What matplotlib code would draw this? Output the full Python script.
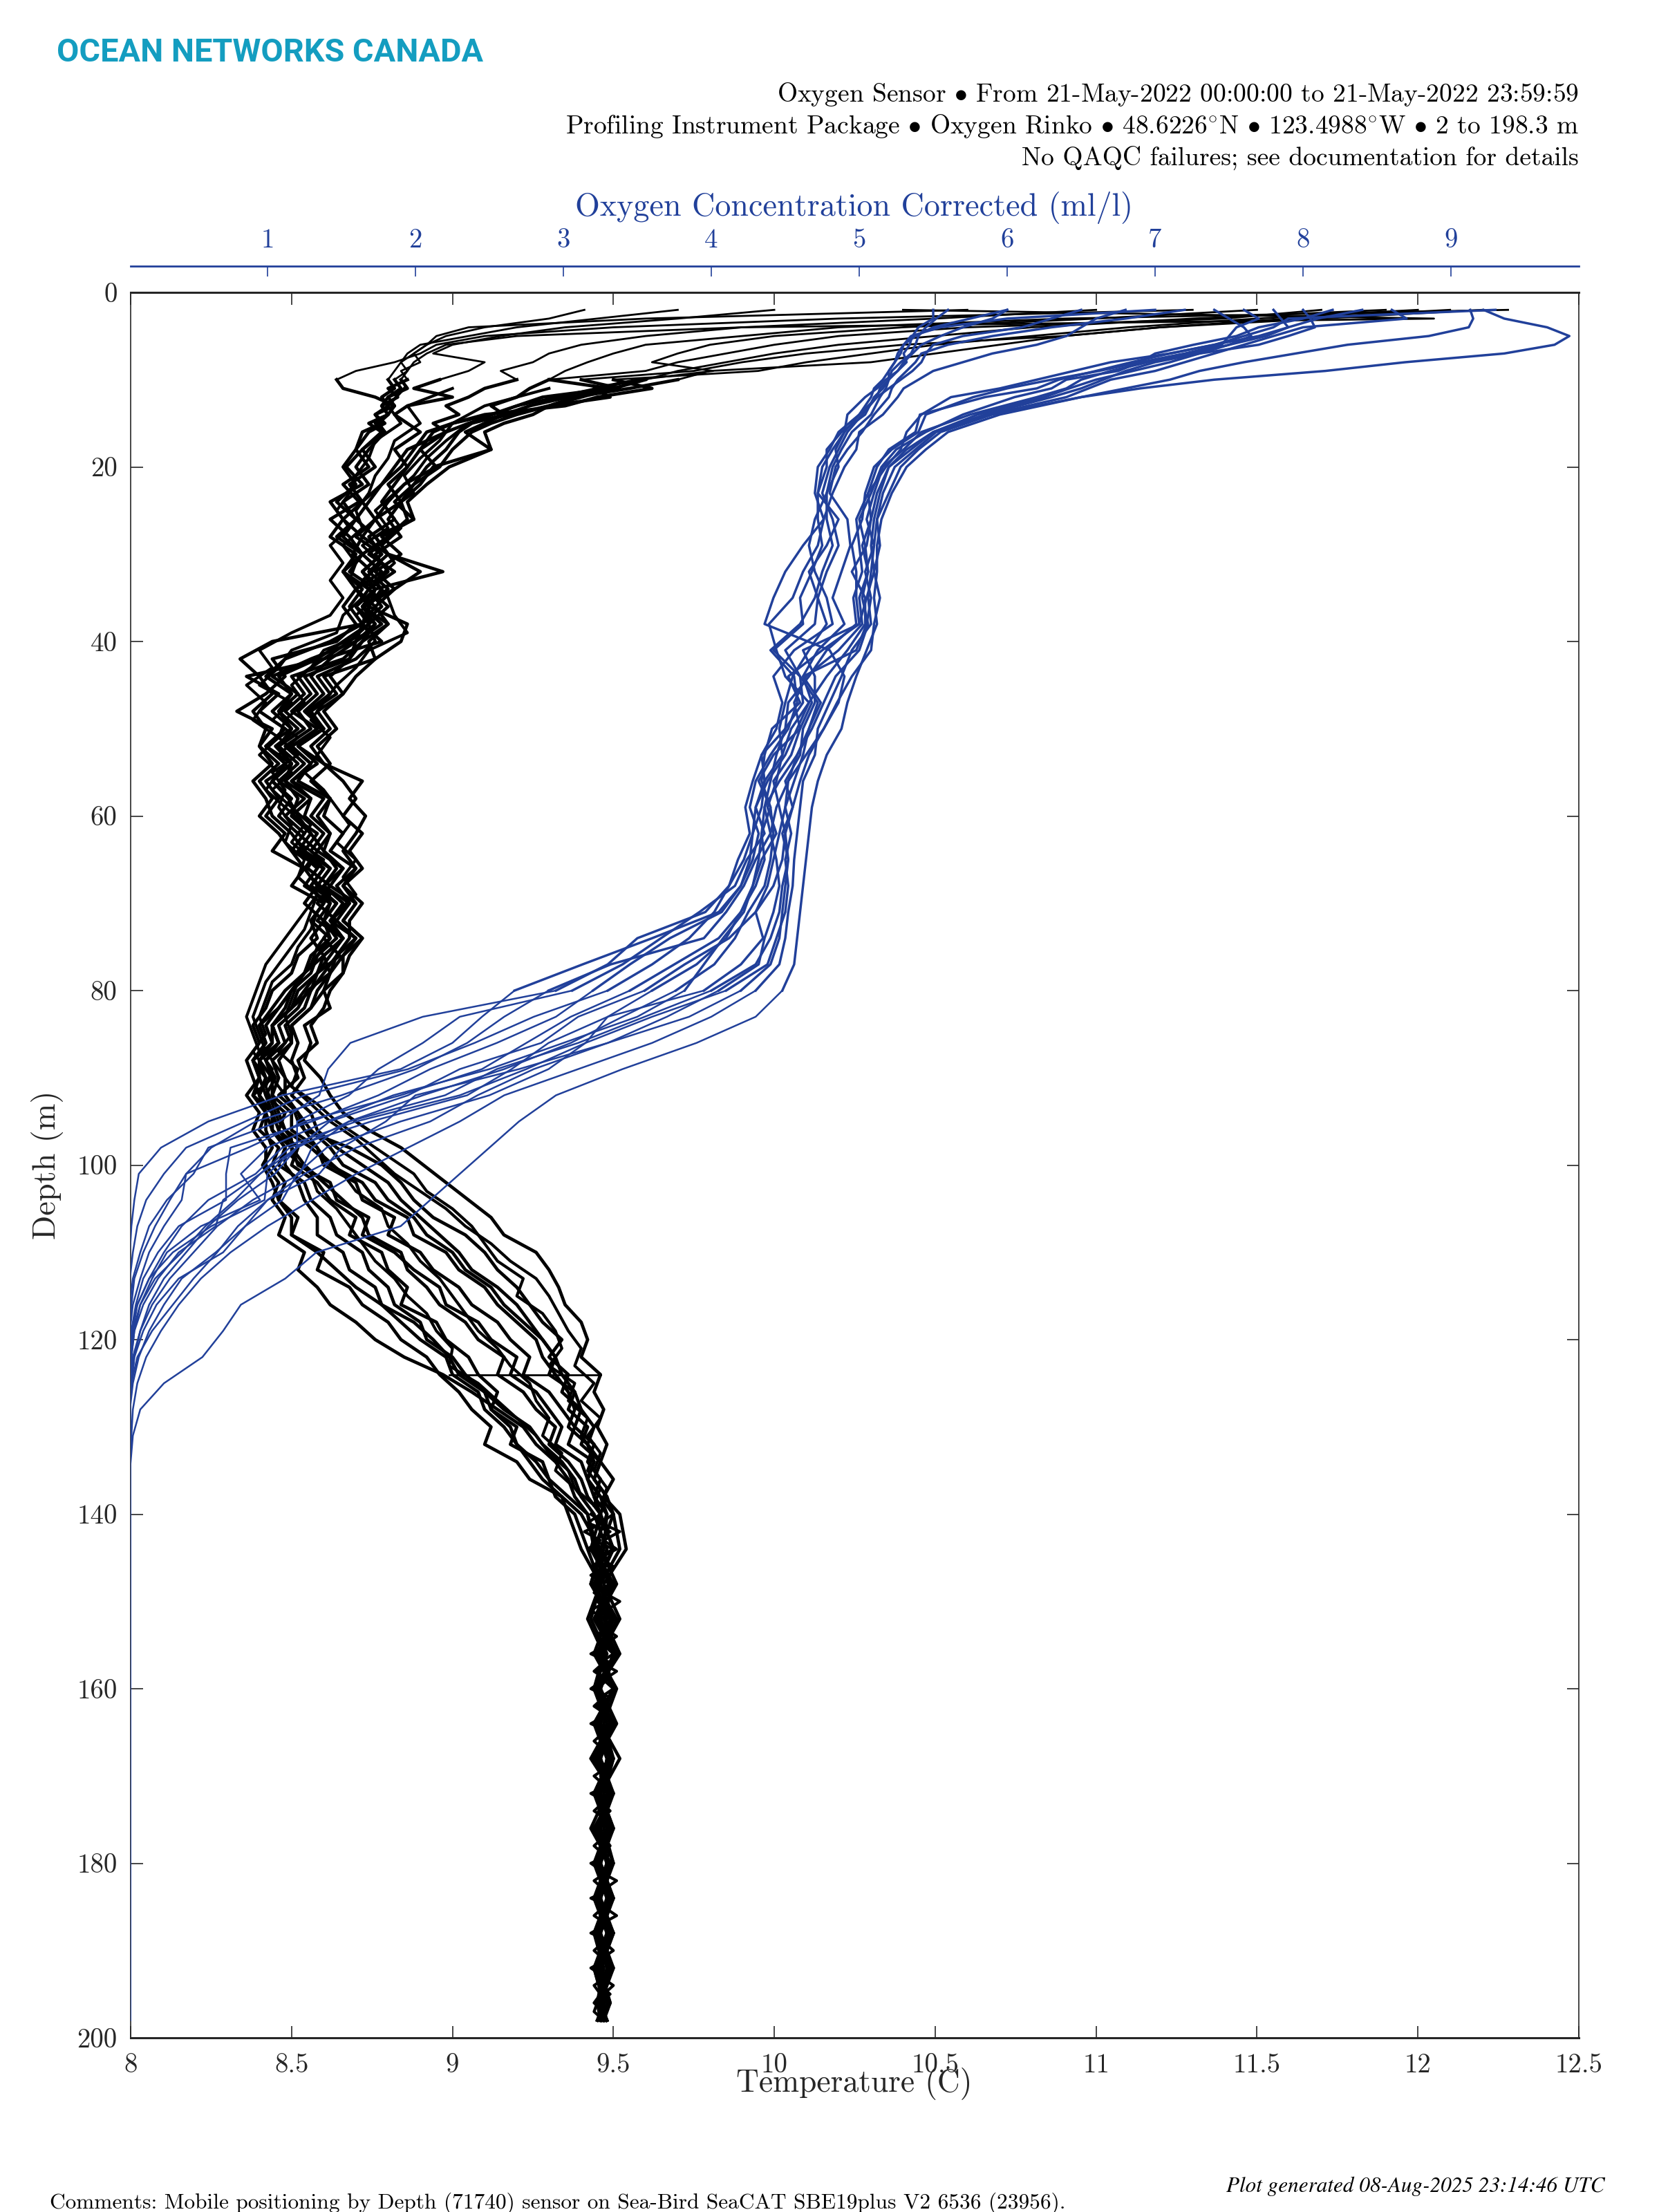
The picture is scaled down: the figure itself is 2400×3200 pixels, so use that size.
import matplotlib
matplotlib.use('Agg')
import matplotlib.pyplot as plt

W = 2400
H = 3200
DPI = 200
BLUE = '#21409a'
TEAL = '#149dc0'
SERIF = ['cmr10', 'DejaVu Serif']

plt.rcParams['axes.formatter.use_mathtext'] = True
plt.rcParams['mathtext.fontset'] = 'cm'
plt.rcParams['mathtext.default'] = 'rm'

depth_temp = [2, 3, 4, 5, 6, 7, 8, 9, 10, 11, 12, 13, 14, 15, 16,
              18, 20, 22, 24, 26, 28, 30, 32, 34, 36, 38, 40, 42, 44, 46, 48, 50, 52, 54, 56, 58, 60,
              62, 64, 66, 68, 70, 72, 74, 76, 78, 80, 82, 84, 86, 88, 90, 92, 94, 96, 98, 100,
              102, 104, 106, 108, 110, 112, 114, 116, 118, 120, 122, 124, 126, 128, 130, 132, 134, 136, 138, 140,
              144, 148, 152, 156, 160, 164, 168, 172, 176, 180, 184, 188, 192, 196, 198]

temp_profiles = [
    [10.6, 9.6, 9.05, 8.95, 8.92, 8.88, 8.9, 8.84, 8.86, 8.8, 8.83, 8.78, 8.8, 8.76, 8.79,
     8.72, 8.76, 8.68, 8.72, 8.66, 8.72, 8.69, 8.75, 8.7, 8.76, 8.72, 8.62, 8.48, 8.42, 8.5, 8.46, 8.52, 8.45, 8.5, 8.44, 8.49, 8.52,
     8.56, 8.6, 8.64, 8.6, 8.66, 8.62, 8.66, 8.6, 8.62, 8.55, 8.52, 8.46, 8.48, 8.42, 8.45, 8.42, 8.48, 8.46, 8.52, 8.5,
     8.58, 8.62, 8.7, 8.68, 8.78, 8.8, 8.86, 8.84, 8.95, 8.98, 9.05, 9.08, 9.14, 9.12, 9.2, 9.18, 9.28, 9.3, 9.36, 9.42,
     9.44, 9.5, 9.46, 9.51, 9.44, 9.49, 9.45, 9.5, 9.44, 9.48, 9.45, 9.5, 9.44, 9.47, 9.46],
    [11.3, 10.2, 9.5, 9.1, 8.95, 8.9, 8.82, 8.7, 8.64, 8.66, 8.76, 8.82, 8.8, 8.77, 8.79,
     8.74, 8.7, 8.74, 8.66, 8.7, 8.64, 8.72, 8.68, 8.76, 8.72, 8.78, 8.7, 8.56, 8.44, 8.52, 8.46, 8.5, 8.42, 8.48, 8.44, 8.5, 8.46,
     8.52, 8.58, 8.55, 8.62, 8.58, 8.64, 8.6, 8.65, 8.58, 8.56, 8.5, 8.44, 8.46, 8.4, 8.44, 8.38, 8.42, 8.4, 8.46, 8.44,
     8.48, 8.46, 8.52, 8.5, 8.6, 8.58, 8.68, 8.72, 8.8, 8.84, 8.92, 8.96, 9.02, 9.06, 9.12, 9.1, 9.2, 9.24, 9.34, 9.4,
     9.46, 9.43, 9.49, 9.45, 9.5, 9.46, 9.49, 9.44, 9.5, 9.45, 9.48, 9.44, 9.49, 9.45, 9.47],
    [10.4, 12.05, 9.9, 9.2, 8.98, 8.92, 8.88, 8.86, 8.84, 8.86, 8.8, 8.82, 8.76, 8.79, 8.74,
     8.7, 8.74, 8.66, 8.71, 8.62, 8.68, 8.72, 8.66, 8.74, 8.7, 8.74, 8.68, 8.6, 8.36, 8.46, 8.4, 8.48, 8.42, 8.5, 8.42, 8.46, 8.42,
     8.48, 8.44, 8.54, 8.5, 8.6, 8.56, 8.62, 8.58, 8.54, 8.48, 8.44, 8.4, 8.42, 8.38, 8.4, 8.36, 8.4, 8.38, 8.42, 8.42,
     8.46, 8.44, 8.48, 8.46, 8.54, 8.52, 8.58, 8.62, 8.7, 8.76, 8.85, 8.97, 9.06, 9.14, 9.22, 9.26, 9.32, 9.36, 9.38, 9.42,
     9.45, 9.49, 9.44, 9.5, 9.46, 9.51, 9.45, 9.48, 9.46, 9.5, 9.44, 9.48, 9.45, 9.49, 9.46],
    [11.9, 11.3, 10.8, 10.5, 10.2, 10.0, 9.85, 9.7, 9.6, 9.5, 9.4, 9.3, 9.2, 9.12, 9.06,
     9.0, 8.96, 8.88, 8.84, 8.8, 8.84, 8.76, 8.8, 8.74, 8.78, 8.72, 8.7, 8.68, 8.62, 8.66, 8.58, 8.62, 8.56, 8.6, 8.66, 8.7, 8.66,
     8.72, 8.68, 8.72, 8.66, 8.7, 8.66, 8.72, 8.68, 8.66, 8.62, 8.6, 8.56, 8.58, 8.52, 8.54, 8.5, 8.56, 8.58, 8.64, 8.72,
     8.8, 8.84, 8.9, 8.96, 9.02, 9.06, 9.14, 9.2, 9.24, 9.28, 9.32, 9.34, 9.38, 9.4, 9.44, 9.42, 9.46, 9.44, 9.48, 9.5,
     9.52, 9.46, 9.5, 9.45, 9.51, 9.47, 9.5, 9.45, 9.49, 9.46, 9.5, 9.46, 9.48, 9.46, 9.47],
    [12.0, 11.5, 11.1, 10.8, 10.5, 10.3, 10.1, 9.95, 9.5, 9.62, 9.45, 9.35, 9.1, 9.0, 8.94,
     8.9, 8.95, 8.85, 8.8, 8.76, 8.8, 8.72, 8.78, 8.7, 8.74, 8.72, 8.78, 8.6, 8.52, 8.56, 8.5, 8.58, 8.5, 8.56, 8.52, 8.62, 8.58,
     8.62, 8.58, 8.66, 8.6, 8.68, 8.62, 8.7, 8.64, 8.6, 8.56, 8.54, 8.48, 8.5, 8.44, 8.46, 8.44, 8.5, 8.5, 8.58, 8.6,
     8.7, 8.72, 8.82, 8.8, 8.9, 8.94, 9.02, 9.06, 9.14, 9.18, 9.24, 9.22, 9.3, 9.34, 9.38, 9.36, 9.44, 9.42, 9.46, 9.48,
     9.44, 9.5, 9.47, 9.52, 9.45, 9.5, 9.44, 9.49, 9.47, 9.5, 9.46, 9.49, 9.44, 9.48, 9.47],
    [12.2, 11.7, 11.2, 10.9, 10.7, 10.5, 10.3, 9.8, 9.7, 9.55, 9.38, 9.3, 9.18, 9.05, 8.98,
     8.86, 8.82, 8.78, 8.74, 8.7, 8.76, 8.8, 8.9, 8.82, 8.76, 8.8, 8.72, 8.66, 8.5, 8.54, 8.48, 8.54, 8.46, 8.52, 8.46, 8.54, 8.48,
     8.54, 8.5, 8.6, 8.56, 8.64, 8.6, 8.64, 8.58, 8.56, 8.5, 8.46, 8.42, 8.44, 8.38, 8.42, 8.4, 8.44, 8.44, 8.5, 8.52,
     8.62, 8.64, 8.74, 8.72, 8.82, 8.88, 8.96, 8.98, 9.08, 9.12, 9.2, 9.18, 9.26, 9.3, 9.34, 9.32, 9.4, 9.42, 9.44, 9.46,
     9.5, 9.44, 9.48, 9.44, 9.5, 9.46, 9.52, 9.46, 9.48, 9.44, 9.5, 9.45, 9.48, 9.47, 9.46],
    [10.0, 9.7, 9.35, 9.15, 9.0, 8.94, 9.1, 9.05, 8.96, 8.88, 9.0, 8.86, 8.82, 8.86, 8.9,
     8.82, 8.86, 8.8, 8.84, 8.76, 8.72, 8.8, 8.97, 8.76, 8.74, 8.86, 8.84, 8.76, 8.7, 8.66, 8.6, 8.64, 8.58, 8.62, 8.56, 8.62, 8.6,
     8.66, 8.62, 8.7, 8.66, 8.72, 8.68, 8.68, 8.64, 8.62, 8.6, 8.56, 8.5, 8.52, 8.5, 8.52, 8.46, 8.52, 8.54, 8.68, 8.78,
     8.84, 8.88, 8.94, 9.04, 9.1, 9.14, 9.2, 9.24, 9.28, 9.34, 9.3, 9.36, 9.34, 9.4, 9.38, 9.44, 9.42, 9.46, 9.44, 9.48,
     9.47, 9.43, 9.5, 9.46, 9.5, 9.44, 9.48, 9.46, 9.5, 9.45, 9.49, 9.44, 9.5, 9.46, 9.48],
    [9.41, 9.3, 9.1, 8.98, 8.92, 8.88, 8.84, 8.86, 8.82, 8.84, 8.8, 8.78, 8.8, 8.74, 8.78,
     8.72, 8.67, 8.72, 8.62, 8.66, 8.62, 8.7, 8.66, 8.7, 8.66, 8.7, 8.64, 8.44, 8.48, 8.42, 8.33, 8.44, 8.4, 8.46, 8.4, 8.44, 8.4,
     8.46, 8.5, 8.54, 8.58, 8.54, 8.6, 8.56, 8.6, 8.54, 8.5, 8.46, 8.4, 8.42, 8.38, 8.4, 8.38, 8.44, 8.44, 8.48, 8.46,
     8.54, 8.56, 8.62, 8.64, 8.72, 8.74, 8.8, 8.82, 8.9, 8.92, 9.0, 9.04, 9.1, 9.12, 9.18, 9.2, 9.26, 9.3, 9.32, 9.38,
     9.42, 9.46, 9.43, 9.48, 9.44, 9.5, 9.45, 9.48, 9.43, 9.49, 9.46, 9.48, 9.44, 9.47, 9.45],
    [11.5, 11.0, 10.4, 10.0, 9.8, 9.7, 9.62, 9.81, 9.58, 9.44, 9.49, 9.3, 9.25, 9.16, 9.1,
     9.12, 8.99, 8.92, 8.86, 8.88, 8.78, 8.84, 8.76, 8.82, 8.72, 8.8, 8.74, 8.76, 8.6, 8.64, 8.56, 8.6, 8.52, 8.6, 8.72, 8.68, 8.73,
     8.7, 8.66, 8.7, 8.64, 8.68, 8.64, 8.7, 8.66, 8.66, 8.6, 8.62, 8.54, 8.56, 8.54, 8.59, 8.62, 8.66, 8.74, 8.84, 8.91,
     8.98, 9.05, 9.12, 9.16, 9.26, 9.3, 9.33, 9.35, 9.4, 9.42, 9.4, 9.46, 9.44, 9.47, 9.45, 9.48, 9.46, 9.5, 9.47, 9.52,
     9.54, 9.47, 9.52, 9.46, 9.5, 9.45, 9.5, 9.46, 9.5, 9.46, 9.49, 9.45, 9.49, 9.46, 9.48],
    [12.28, 10.9, 10.2, 9.9, 9.6, 9.5, 9.42, 9.35, 9.3, 9.24, 9.2, 9.12, 9.16, 9.06, 9.02,
     8.98, 8.92, 8.88, 8.82, 8.88, 8.76, 8.8, 8.74, 8.8, 8.72, 8.76, 8.7, 8.62, 8.56, 8.6, 8.54, 8.6, 8.52, 8.58, 8.5, 8.56, 8.54,
     8.6, 8.56, 8.62, 8.58, 8.64, 8.6, 8.62, 8.56, 8.54, 8.5, 8.48, 8.44, 8.46, 8.4, 8.42, 8.4, 8.42, 8.42, 8.44, 8.41,
     8.44, 8.46, 8.5, 8.5, 8.58, 8.64, 8.7, 8.78, 8.88, 8.94, 8.99, 9.02, 9.1, 9.16, 9.24, 9.28, 9.34, 9.38, 9.4, 9.44,
     9.48, 9.44, 9.5, 9.46, 9.5, 9.45, 9.49, 9.44, 9.48, 9.46, 9.5, 9.44, 9.47, 9.45, 9.46],
    [11.0, 10.5, 9.9, 9.6, 9.4, 9.3, 9.25, 9.15, 9.2, 9.1, 9.05, 8.98, 9.02, 8.94, 8.98,
     8.9, 8.86, 8.82, 8.78, 8.82, 8.74, 8.78, 8.72, 8.76, 8.7, 8.76, 8.72, 8.68, 8.54, 8.58, 8.52, 8.56, 8.48, 8.54, 8.48, 8.52, 8.5,
     8.58, 8.54, 8.62, 8.58, 8.62, 8.6, 8.66, 8.6, 8.58, 8.52, 8.5, 8.44, 8.46, 8.42, 8.44, 8.44, 8.46, 8.48, 8.56, 8.62,
     8.72, 8.76, 8.86, 8.88, 8.98, 9.02, 9.1, 9.14, 9.2, 9.26, 9.28, 9.32, 9.36, 9.38, 9.36, 9.42, 9.44, 9.42, 9.46, 9.5,
     9.46, 9.51, 9.45, 9.5, 9.46, 9.49, 9.43, 9.5, 9.46, 9.48, 9.44, 9.5, 9.46, 9.49, 9.47],
    [11.7, 11.4, 10.6, 10.2, 10.0, 9.85, 9.7, 9.6, 9.3, 9.49, 9.28, 9.2, 9.12, 9.0, 8.92,
     8.88, 8.84, 8.78, 8.72, 8.76, 8.7, 8.78, 8.72, 8.78, 8.74, 8.74, 8.66, 8.58, 8.46, 8.5, 8.44, 8.5, 8.46, 8.5, 8.48, 8.56, 8.5,
     8.56, 8.52, 8.58, 8.54, 8.62, 8.58, 8.66, 8.62, 8.58, 8.54, 8.5, 8.44, 8.44, 8.4, 8.4, 8.42, 8.44, 8.46, 8.5, 8.54,
     8.6, 8.66, 8.72, 8.74, 8.84, 8.86, 8.92, 8.96, 9.04, 9.08, 9.16, 9.14, 9.22, 9.26, 9.32, 9.3, 9.36, 9.4, 9.42, 9.46,
     9.43, 9.49, 9.45, 9.51, 9.44, 9.48, 9.46, 9.5, 9.44, 9.49, 9.45, 9.5, 9.46, 9.48, 9.47],
    [9.7, 9.45, 9.2, 9.05, 8.9, 8.86, 8.84, 8.82, 8.8, 8.82, 8.78, 8.8, 8.76, 8.78, 8.72,
     8.7, 8.66, 8.7, 8.64, 8.7, 8.66, 8.72, 8.66, 8.72, 8.68, 8.72, 8.44, 8.34, 8.4, 8.44, 8.38, 8.42, 8.4, 8.44, 8.38, 8.42, 8.44,
     8.5, 8.54, 8.6, 8.56, 8.6, 8.56, 8.58, 8.52, 8.5, 8.44, 8.42, 8.38, 8.4, 8.36, 8.38, 8.4, 8.42, 8.44, 8.48, 8.48,
     8.52, 8.54, 8.58, 8.58, 8.66, 8.68, 8.76, 8.78, 8.84, 8.9, 8.98, 9.0, 9.08, 9.1, 9.16, 9.2, 9.24, 9.28, 9.34, 9.36,
     9.4, 9.46, 9.42, 9.47, 9.44, 9.5, 9.46, 9.49, 9.45, 9.48, 9.46, 9.5, 9.45, 9.47, 9.46],
    [12.1, 11.6, 11.2, 10.9, 10.4, 10.1, 9.9, 9.75, 9.4, 9.52, 9.36, 9.24, 9.16, 9.1, 9.04,
     9.12, 8.94, 8.9, 8.84, 8.86, 8.8, 8.74, 8.82, 8.74, 8.8, 8.74, 8.76, 8.7, 8.58, 8.62, 8.55, 8.6, 8.5, 8.56, 8.5, 8.6, 8.56,
     8.62, 8.6, 8.66, 8.62, 8.7, 8.66, 8.72, 8.66, 8.62, 8.58, 8.56, 8.5, 8.5, 8.46, 8.48, 8.48, 8.52, 8.56, 8.62, 8.66,
     8.76, 8.8, 8.88, 8.92, 9.0, 9.04, 9.12, 9.16, 9.22, 9.28, 9.32, 9.3, 9.38, 9.36, 9.42, 9.4, 9.46, 9.44, 9.48, 9.46,
     9.5, 9.45, 9.51, 9.47, 9.5, 9.44, 9.5, 9.47, 9.49, 9.44, 9.48, 9.46, 9.5, 9.45, 9.48],
]

# profiles of the middle of the water column, read at the odd depths
depth_mid = [11, 13, 15, 17, 19, 21, 23, 25, 27, 29, 31, 33, 35, 37, 39,
             41, 43, 45, 47, 49, 51, 53, 55, 57, 59,
             61, 63, 65, 67, 69, 71, 73, 75, 77, 79,
             81, 83, 85, 87, 89, 91, 93, 95, 97, 99,
             101, 103, 105, 107, 109, 111, 113, 115, 117, 119,
             121, 123, 125, 127, 129, 131, 133, 135, 137, 139]
temp_mid = [
    [9.3, 9.1, 9.0, 8.96, 8.9, 8.85, 8.88, 8.8, 8.84, 8.78, 8.82, 8.76, 8.8, 8.82, 8.86,
     8.74, 8.7, 8.64, 8.6, 8.56, 8.62, 8.58, 8.54, 8.6, 8.64,
     8.68, 8.64, 8.7, 8.66, 8.7, 8.64, 8.62, 8.58, 8.56, 8.52,
     8.5, 8.48, 8.5, 8.46, 8.52, 8.5, 8.56, 8.62, 8.7, 8.76,
     8.82, 8.9, 8.98, 9.04, 9.12, 9.18, 9.26, 9.3, 9.33, 9.36,
     9.4, 9.38, 9.44, 9.4, 9.46, 9.42, 9.46, 9.44, 9.48, 9.46],
    [9.0, 8.86, 8.9, 8.82, 8.8, 8.76, 8.74, 8.7, 8.72, 8.66, 8.7, 8.68, 8.72, 8.66, 8.64,
     8.5, 8.46, 8.4, 8.5, 8.44, 8.52, 8.46, 8.5, 8.44, 8.5,
     8.56, 8.52, 8.6, 8.56, 8.62, 8.58, 8.56, 8.52, 8.5, 8.44,
     8.42, 8.4, 8.42, 8.38, 8.42, 8.46, 8.5, 8.52, 8.56, 8.6,
     8.66, 8.7, 8.78, 8.8, 8.86, 8.9, 8.96, 9.0, 9.04, 9.08,
     9.14, 9.18, 9.24, 9.26, 9.3, 9.28, 9.34, 9.32, 9.38, 9.42],
    [9.45, 9.2, 9.05, 8.98, 8.92, 8.88, 8.82, 8.76, 8.8, 8.72, 8.78, 8.72, 8.76, 8.7, 8.74,
     8.6, 8.56, 8.5, 8.54, 8.48, 8.46, 8.52, 8.44, 8.48, 8.46,
     8.5, 8.48, 8.54, 8.52, 8.58, 8.54, 8.5, 8.46, 8.42, 8.4,
     8.38, 8.36, 8.38, 8.4, 8.44, 8.42, 8.44, 8.46, 8.5, 8.5,
     8.56, 8.58, 8.64, 8.68, 8.72, 8.76, 8.82, 8.86, 8.92, 8.95,
     9.0, 8.99, 9.08, 9.14, 9.2, 9.26, 9.3, 9.36, 9.38, 9.44],
    [8.85, 8.8, 8.84, 8.76, 8.74, 8.7, 8.68, 8.64, 8.68, 8.62, 8.66, 8.62, 8.66, 8.62, 8.5,
     8.4, 8.44, 8.36, 8.42, 8.38, 8.46, 8.4, 8.46, 8.42, 8.48,
     8.54, 8.5, 8.56, 8.52, 8.58, 8.56, 8.54, 8.5, 8.46, 8.42,
     8.4, 8.38, 8.4, 8.42, 8.46, 8.5, 8.58, 8.64, 8.72, 8.8,
     8.88, 8.92, 9.0, 9.06, 9.1, 9.14, 9.22, 9.2, 9.28, 9.32,
     9.34, 9.3, 9.38, 9.36, 9.42, 9.4, 9.44, 9.42, 9.46, 9.44],
]

# the flat jump at 124 m
jump_depth = [124, 124]
jump_temp = [8.99, 9.46]

# fine noise of the deep band, 1 m steps from 140 to 198
depth_deep = [140, 141, 142, 143, 144, 145, 146, 147, 148, 149, 150, 151, 152, 153, 154, 155, 156, 157, 158, 159,
              160, 161, 162, 163, 164, 165, 166, 167, 168, 169, 170, 171, 172, 173, 174, 175, 176, 177, 178, 179,
              180, 181, 182, 183, 184, 185, 186, 187, 188, 189, 190, 191, 192, 193, 194, 195, 196, 197, 198]
temp_deep_a = [9.43, 9.47, 9.41, 9.46, 9.42, 9.48, 9.43, 9.47, 9.44, 9.49, 9.45, 9.48, 9.44, 9.47, 9.45, 9.49, 9.44, 9.47, 9.44, 9.48,
               9.45, 9.47, 9.44, 9.48, 9.45, 9.47, 9.44, 9.47, 9.45, 9.48, 9.44, 9.47, 9.45, 9.47, 9.44, 9.48, 9.45, 9.47, 9.44, 9.47,
               9.45, 9.48, 9.44, 9.47, 9.45, 9.47, 9.44, 9.48, 9.45, 9.47, 9.44, 9.47, 9.45, 9.48, 9.44, 9.46, 9.44, 9.47, 9.45]
temp_deep_b = [9.5, 9.46, 9.52, 9.47, 9.51, 9.46, 9.5, 9.47, 9.51, 9.47, 9.52, 9.48, 9.5, 9.47, 9.51, 9.47, 9.5, 9.46, 9.51, 9.47,
               9.5, 9.46, 9.49, 9.47, 9.51, 9.47, 9.49, 9.46, 9.5, 9.46, 9.49, 9.47, 9.5, 9.46, 9.49, 9.46, 9.5, 9.47, 9.49, 9.46,
               9.5, 9.46, 9.51, 9.47, 9.5, 9.47, 9.51, 9.46, 9.49, 9.47, 9.5, 9.46, 9.49, 9.46, 9.5, 9.47, 9.49, 9.46, 9.48]
temp_deep_c = [9.46, 9.42, 9.49, 9.44, 9.5, 9.45, 9.47, 9.43, 9.49, 9.44, 9.48, 9.43, 9.47, 9.5, 9.45, 9.48, 9.43, 9.49, 9.45, 9.47,
               9.43, 9.49, 9.45, 9.48, 9.43, 9.49, 9.46, 9.48, 9.43, 9.47, 9.46, 9.49, 9.43, 9.48, 9.46, 9.49, 9.44, 9.48, 9.46, 9.49,
               9.43, 9.47, 9.46, 9.49, 9.43, 9.49, 9.46, 9.48, 9.43, 9.49, 9.46, 9.48, 9.43, 9.47, 9.46, 9.49, 9.45, 9.44, 9.47]

depth_oxy = [2, 3, 4, 5, 6, 7, 8, 9, 10, 11, 12,
             14, 16, 18, 20, 23, 26, 29, 32, 35, 38,
             41, 44, 47, 50, 53, 56, 59, 62, 65, 68, 71, 74, 77, 80,
             83, 86, 89, 92, 95, 98, 101, 104, 107, 110, 113, 116, 119, 122,
             125, 128, 131, 135, 140, 198]

oxy_profiles = [
    [9.22, 9.36, 9.65, 9.80, 9.7, 9.36, 8.69, 8.15, 7.4, 6.9, 6.5,
     5.95, 5.6, 5.45, 5.32, 5.22, 5.15, 5.12, 5.12, 5.1, 5.12,
     5.05, 4.98, 4.92, 4.88, 4.78, 4.72, 4.68, 4.66, 4.64, 4.62, 4.6, 4.58, 4.56, 4.48,
     4.3, 3.9, 3.4, 2.95, 2.7, 2.5, 2.3, 2.1, 1.9, 1.33, 1.12, 0.82, 0.7, 0.56,
     0.3, 0.14, 0.09, 0.07, 0.07, 0.07],
    [9.13, 9.15, 9.12, 8.85, 8.3, 7.95, 7.6, 7.3, 7.1, 6.8, 6.5,
     5.9, 5.55, 5.4, 5.28, 5.2, 5.12, 5.1, 5.08, 5.06, 5.08,
     4.95, 4.88, 4.8, 4.72, 4.7, 4.62, 4.6, 4.58, 4.56, 4.55, 4.52, 4.5, 4.46, 4.3,
     4.0, 3.6, 3.1, 2.6, 2.3, 1.95, 1.6, 1.3, 1.0, 0.75, 0.55, 0.4, 0.28, 0.18,
     0.12, 0.09, 0.08, 0.07, 0.07, 0.07],
    [8.0, 8.05, 8.08, 7.9, 7.7, 7.3, 7.0, 6.8, 6.65, 6.5, 6.3,
     5.85, 5.5, 5.35, 5.2, 5.14, 5.1, 5.08, 5.1, 5.05, 5.0,
     4.62, 4.7, 4.7, 4.62, 4.6, 4.5, 4.55, 4.48, 4.52, 4.48, 4.46, 4.4, 4.3, 4.0,
     3.55, 3.1, 2.55, 2.2, 1.55, 1.2, 1.05, 0.8, 0.6, 0.45, 0.3, 0.2, 0.14, 0.1,
     0.08, 0.07, 0.07, 0.07, 0.07, 0.07],
    [7.8, 7.85, 7.9, 7.75, 7.5, 7.25, 6.95, 6.7, 6.5, 6.4, 6.2,
     5.75, 5.42, 5.3, 5.16, 5.1, 5.05, 5.1, 5.04, 5.08, 5.05,
     4.98, 4.62, 4.74, 4.66, 4.62, 4.56, 4.5, 4.54, 4.5, 4.52, 4.5, 4.44, 4.38, 4.1,
     3.6, 3.15, 2.9, 2.5, 1.9, 1.4, 1.2, 1.1, 0.85, 0.65, 0.42, 0.3, 0.2, 0.13,
     0.09, 0.07, 0.07, 0.07, 0.07, 0.07],
    [7.6, 7.7, 7.55, 7.5, 7.45, 7.2, 6.9, 6.75, 6.4, 6.3, 6.05,
     5.7, 5.45, 5.25, 5.15, 5.08, 5.0, 5.04, 5.06, 5.0, 5.02,
     4.86, 4.64, 4.56, 4.6, 4.54, 4.42, 4.46, 4.5, 4.48, 4.42, 4.3, 4.35, 4.2, 3.95,
     3.3, 2.9, 2.65, 2.35, 1.7, 1.15, 0.95, 0.7, 0.65, 0.4, 0.26, 0.16, 0.1, 0.08,
     0.07, 0.07, 0.07, 0.07, 0.07, 0.07],
    [7.4, 7.5, 7.6, 7.65, 7.5, 7.3, 7.1, 6.85, 6.6, 6.42, 6.25,
     5.8, 5.5, 5.32, 5.2, 5.12, 5.08, 5.02, 5.06, 5.02, 5.06,
     5.0, 4.84, 4.76, 4.68, 4.58, 4.52, 4.44, 4.4, 4.44, 4.46, 4.42, 4.36, 4.32, 4.05,
     3.7, 3.3, 2.8, 2.42, 2.1, 1.6, 1.25, 1.0, 0.8, 0.66, 0.5, 0.36, 0.22, 0.12,
     0.08, 0.07, 0.07, 0.07, 0.07, 0.07],
    [9.3, 7.9, 7.8, 7.6, 7.4, 7.1, 6.84, 6.6, 6.35, 6.2, 5.85,
     5.41, 5.38, 5.2, 5.12, 5.06, 4.98, 5.0, 5.02, 4.96, 4.98,
     4.78, 4.66, 4.52, 4.5, 4.44, 4.4, 4.36, 4.34, 4.36, 4.3, 4.2, 4.1, 3.9, 3.6,
     3.3, 3.15, 2.75, 2.3, 1.6, 1.1, 0.92, 0.6, 0.42, 0.3, 0.2, 0.12, 0.09, 0.07,
     0.07, 0.07, 0.07, 0.07, 0.07, 0.07],
    [6.5, 6.3, 6.1, 5.7, 5.5, 5.45, 5.42, 5.36, 5.28, 5.2, 5.12,
     5.0, 4.86, 4.8, 4.72, 4.7, 4.76, 4.72, 4.62, 4.55, 4.39,
     4.44, 4.5, 4.66, 4.58, 4.5, 4.38, 4.3, 4.28, 4.26, 4.2, 4.07, 3.72, 3.45, 3.2,
     2.95, 2.55, 2.1, 1.75, 1.3, 0.75, 0.72, 0.72, 0.4, 0.26, 0.16, 0.11, 0.08, 0.07,
     0.07, 0.07, 0.07, 0.07, 0.07, 0.07],
    [7.0, 6.0, 5.55, 5.35, 5.3, 5.28, 5.24, 5.2, 5.16, 5.1, 5.08,
     5.0, 4.9, 4.82, 4.75, 4.72, 4.72, 4.75, 4.68, 4.6, 4.62,
     4.42, 4.6, 4.72, 4.66, 4.58, 4.46, 4.36, 4.4, 4.3, 4.22, 4.1, 3.95, 3.32, 2.9,
     2.6, 2.35, 2.0, 1.5, 0.92, 0.62, 0.45, 0.42, 0.3, 0.2, 0.14, 0.09, 0.07, 0.07,
     0.07, 0.07, 0.07, 0.07, 0.07, 0.07],
    [5.6, 5.52, 5.45, 5.4, 5.38, 5.35, 5.28, 5.22, 5.2, 5.18, 5.14,
     5.08, 4.95, 4.88, 4.82, 4.78, 4.78, 4.82, 4.75, 4.7, 4.6,
     4.4, 4.56, 4.58, 4.52, 4.4, 4.3, 4.26, 4.32, 4.28, 4.2, 4.05, 3.6, 3.13, 2.67,
     2.45, 2.25, 1.9, 1.1, 0.6, 0.28, 0.13, 0.1, 0.08, 0.07, 0.07, 0.07, 0.07, 0.07,
     0.07, 0.07, 0.07, 0.07, 0.07, 0.07],
    [6.0, 5.75, 5.5, 5.38, 5.3, 5.26, 5.24, 5.2, 5.2, 5.14, 5.12,
     5.02, 4.92, 4.86, 4.8, 4.75, 4.82, 4.86, 4.78, 4.72, 4.7,
     4.5, 4.6, 4.62, 4.5, 4.34, 4.28, 4.23, 4.26, 4.18, 4.12, 3.96, 3.5, 3.3, 2.95,
     2.05, 1.56, 1.41, 1.35, 1.08, 0.6, 0.5, 0.32, 0.2, 0.14, 0.09, 0.07, 0.07, 0.07,
     0.07, 0.07, 0.07, 0.07, 0.07, 0.07],
    [7.2, 6.8, 6.3, 5.9, 5.6, 5.42, 5.38, 5.32, 5.26, 5.22, 5.2,
     5.1, 5.02, 4.92, 4.84, 4.8, 4.92, 4.94, 4.88, 4.82, 4.9,
     4.72, 4.62, 4.68, 4.6, 4.42, 4.32, 4.4, 4.34, 4.32, 4.28, 4.2, 4.05, 3.75, 3.45,
     3.05, 2.75, 2.45, 1.9, 1.25, 0.87, 0.45, 0.34, 0.24, 0.16, 0.1, 0.08, 0.07, 0.07,
     0.07, 0.07, 0.07, 0.07, 0.07, 0.07],
    [6.8, 6.6, 6.5, 6.4, 6.2, 5.9, 5.7, 5.5, 5.4, 5.3, 5.26,
     5.16, 5.0, 4.98, 4.9, 4.82, 4.76, 4.62, 4.5, 4.42, 4.36,
     4.8, 4.9, 4.86, 4.76, 4.64, 4.52, 4.5, 4.46, 4.42, 4.38, 4.3, 4.12, 3.82, 3.55,
     3.1, 2.85, 2.3, 1.95, 1.42, 1.2, 0.95, 0.78, 0.58, 0.42, 0.24, 0.14, 0.09, 0.07,
     0.07, 0.07, 0.07, 0.07, 0.07, 0.07],
    [8.2, 8.0, 7.7, 7.55, 7.26, 7.0, 6.9, 6.62, 6.3, 6.0, 5.77,
     5.45, 5.4, 5.22, 5.1, 5.04, 5.02, 4.95, 4.98, 4.98, 5.0,
     4.75, 4.52, 4.6, 4.41, 4.36, 4.34, 4.4, 4.42, 4.4, 4.36, 4.25, 4.16, 4.02, 3.76,
     3.4, 3.05, 2.6, 2.05, 1.55, 1.3, 1.22, 0.9, 0.66, 0.5, 0.34, 0.22, 0.14, 0.09,
     0.07, 0.07, 0.07, 0.07, 0.07, 0.07],
    [8.6, 8.7, 8.0, 7.8, 7.6, 7.4, 7.2, 7.0, 6.7, 6.55, 6.4,
     5.88, 5.52, 5.38, 5.24, 5.16, 5.12, 5.14, 5.1, 5.14, 5.1,
     5.08, 4.95, 4.85, 4.76, 4.66, 4.6, 4.55, 4.5, 4.52, 4.5, 4.48, 4.46, 4.4, 4.2,
     3.85, 3.3, 2.7, 2.0, 1.8, 1.5, 1.35, 1.0, 0.85, 0.7, 0.4, 0.25, 0.16, 0.1,
     0.08, 0.07, 0.07, 0.07, 0.07, 0.07],
    [6.0, 5.9, 5.7, 5.55, 5.42, 5.36, 5.3, 5.26, 5.2, 5.16, 5.1,
     5.04, 4.88, 4.78, 4.78, 4.72, 4.86, 4.78, 4.66, 4.72, 4.78,
     4.66, 4.55, 4.5, 4.46, 4.48, 4.36, 4.3, 4.36, 4.24, 4.16, 3.92, 3.66, 3.4, 3.06,
     2.3, 2.05, 1.75, 1.55, 1.2, 1.2, 1.0, 0.98, 0.62, 0.36, 0.2, 0.12, 0.08, 0.07,
     0.07, 0.07, 0.07, 0.07, 0.07, 0.07],
    [8.4, 8.1, 7.9, 7.7, 7.4, 7.1, 6.7, 6.45, 6.2, 5.95, 5.62,
     5.42, 5.32, 5.28, 5.18, 5.06, 5.08, 5.05, 4.95, 5.04, 5.04,
     4.92, 4.78, 4.66, 4.54, 4.48, 4.44, 4.38, 4.44, 4.34, 4.28, 4.22, 4.08, 3.95, 3.82,
     3.5, 3.0, 2.5, 1.85, 1.4, 1.0, 0.82, 0.95, 0.55, 0.32, 0.22, 0.14, 0.1, 0.08,
     0.07, 0.07, 0.07, 0.07, 0.07, 0.07],
    [5.5, 5.5, 5.4, 5.36, 5.34, 5.3, 5.32, 5.26, 5.18, 5.12, 5.04,
     4.92, 4.9, 4.84, 4.86, 4.78, 4.7, 4.66, 4.7, 4.78, 4.82,
     4.56, 4.42, 4.48, 4.44, 4.34, 4.36, 4.34, 4.28, 4.22, 4.12, 4.02, 3.85, 3.6, 3.3,
     2.8, 2.4, 1.95, 1.25, 0.85, 0.45, 0.3, 0.18, 0.12, 0.09, 0.07, 0.07, 0.07, 0.07,
     0.07, 0.07, 0.07, 0.07, 0.07, 0.07],
]

depth_ticks = [0, 20, 40, 60, 80, 100, 120, 140, 160, 180, 200]
temp_ticks = [8, 8.5, 9, 9.5, 10, 10.5, 11, 11.5, 12, 12.5]
temp_labels = ['8', '8.5', '9', '9.5', '10', '10.5', '11', '11.5', '12', '12.5']
oxy_ticks = [1, 2, 3, 4, 5, 6, 7, 8, 9]
oxy_labels = ['1', '2', '3', '4', '5', '6', '7', '8', '9']

# pixel box of the axes in the 2400x3200 picture
left, right, top, bottom = 189, 2284, 423, 2948


def px_x(x):
    return x / W


def px_y(y):
    return 1 - y / H


fig = plt.figure(figsize=(W / DPI, H / DPI), dpi=DPI, facecolor='white')
ax = fig.add_axes([px_x(left), px_y(bottom), (right - left) / W, (bottom - top) / H])

for prof in temp_profiles:
    # surface part is thin, below that the noise makes the lines look heavy
    ax.plot(prof[:9], depth_temp[:9], color='black', lw=1.0)
    ax.plot(prof[8:], depth_temp[8:], color='black', lw=1.7)
for prof in temp_mid:
    ax.plot(prof, depth_mid, color='black', lw=1.5)
ax.plot(jump_temp, jump_depth, color='black', lw=1.0)
for prof in [temp_deep_a, temp_deep_b, temp_deep_c]:
    ax.plot(prof, depth_deep, color='black', lw=1.5)

ax.set_xlim(8, 12.5)
ax.set_ylim(200, 0)
ax.set_xticks(temp_ticks)
ax.set_xticklabels(temp_labels, family=SERIF, fontsize=14)
ax.set_yticks(depth_ticks)
ax.set_yticklabels([str(d) for d in depth_ticks], family=SERIF, fontsize=14)
ax.tick_params(axis='both', direction='in', length=6.3, width=0.6, color='#262626',
               top=True, right=True, labelcolor='#262626')
ax.tick_params(axis='x', pad=8)
ax.tick_params(axis='y', pad=7)
for side in ax.spines:
    ax.spines[side].set_linewidth(0.6)
    ax.spines[side].set_color('#262626')
ax.spines['top'].set_linewidth(1.1)
ax.spines['bottom'].set_linewidth(1.1)

ax2 = fig.add_axes(ax.get_position(), sharey=ax)
ax2.patch.set_visible(False)
for prof in oxy_profiles:
    ax2.plot(prof[:35], depth_oxy[:35], color=BLUE, lw=1.25)
    ax2.plot(prof[34:], depth_oxy[34:], color=BLUE, lw=0.9)
ax2.set_xlim(0.075, 9.864)
ax2.tick_params(axis='y', left=False, right=False, labelleft=False, labelright=False)
# set_position resets the ticks, so this has to come before the tick label styling
ax2.spines['top'].set_position(('outward', 38 * 72 / DPI))
ax2.spines['top'].set_color(BLUE)
ax2.spines['top'].set_linewidth(1.0)
for side in ['left', 'right', 'bottom']:
    ax2.spines[side].set_visible(False)
ax2.xaxis.set_ticks_position('top')
ax2.set_xticks(oxy_ticks)
ax2.set_xticklabels(oxy_labels)
ax2.tick_params(axis='x', direction='in', length=5.5, width=0.6, color=BLUE, pad=7, labelcolor=BLUE)
for tick in ax2.xaxis.get_major_ticks():
    tick.label2.set_family(SERIF)
    tick.label2.set_fontsize(14)

fig.text(px_x(1236), px_y(3015), 'Temperature (C)', family=SERIF, fontsize=16.4, color='#262626',
         ha='center', va='center')
fig.text(px_x(68), px_y(1685), 'Depth (m)', family=SERIF, fontsize=16.7, color='#262626',
         rotation=90, ha='center', va='center')
fig.text(px_x(1236), px_y(300), 'Oxygen Concentration Corrected (ml/l)', family=SERIF, fontsize=16.6,
         color=BLUE, ha='center', va='center')

fig.text(px_x(82), px_y(76), 'OCEAN NETWORKS CANADA', family='Roboto', weight='bold', fontsize=16.9,
         color=TEAL, ha='left', va='center')
fig.text(px_x(2284), px_y(137), r'Oxygen Sensor $\bullet$ From 21-May-2022 00:00:00 to 21-May-2022 23:59:59',
         family=SERIF, fontsize=13.5, ha='right', va='center')
fig.text(px_x(2284), px_y(183),
         r'Profiling Instrument Package $\bullet$ Oxygen Rinko $\bullet$ 48.6226$^{\circ}$N $\bullet$ 123.4988$^{\circ}$W $\bullet$ 2 to 198.3 m',
         family=SERIF, fontsize=13.5, ha='right', va='center')
fig.text(px_x(2284), px_y(228), 'No QAQC failures; see documentation for details',
         family=SERIF, fontsize=13.5, ha='right', va='center')
fig.text(px_x(72), px_y(3187), 'Comments: Mobile positioning by Depth (71740) sensor on Sea-Bird SeaCAT SBE19plus V2 6536 (23956).',
         family=SERIF, fontsize=11.3, ha='left', va='center')
fig.text(px_x(2322), px_y(3163), 'Plot generated 08-Aug-2025 23:14:46 UTC',
         family='STIXGeneral', style='italic', fontsize=11.2, ha='right', va='center')

fig.savefig('out.png', dpi=DPI)
